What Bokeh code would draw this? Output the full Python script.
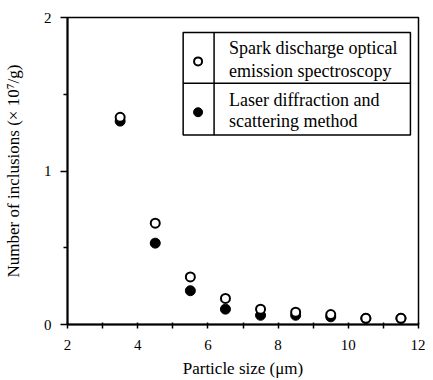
from bokeh.plotting import figure
from bokeh.models import FixedTicker, Range1d
from bokeh.embed import file_html
from bokeh.resources import INLINE
from bokeh.core.properties import value

sizes = [3.5, 4.5, 5.5, 6.5, 7.5, 8.5, 9.5, 10.5, 11.5]
spark = [1.35, 0.66, 0.31, 0.17, 0.10, 0.08, 0.065, 0.04, 0.04]
laser = [1.325, 0.53, 0.22, 0.10, 0.06, 0.06, 0.05, 0.04, 0.04]

x_ticks = [2, 4, 6, 8, 10, 12]
x_minor = [3, 5, 7, 9, 11]
y_ticks = [0, 1, 2]
y_minor = [0.5, 1.5]

legend_labels = [["Spark discharge optical", "emission spectroscopy"],
                 ["Laser diffraction and", "scattering method"]]

FONT = "Liberation Serif"

p = figure(width=425, height=380, output_backend="svg", toolbar_location=None,
           x_range=Range1d(2, 12), y_range=Range1d(0, 2),
           min_border_left=66, min_border_right=7, min_border_top=17, min_border_bottom=55)
p.grid.visible = False
p.background_fill_color = "white"
p.border_fill_color = "white"
p.outline_line_color = "black"
p.outline_line_width = 1.5

for ax in (p.xaxis[0], p.yaxis[0]):
    ax.axis_line_width = 2
    ax.axis_line_color = "black"
    ax.major_tick_line_color = "black"
    ax.minor_tick_line_color = "black"
    ax.major_tick_line_width = 1.5
    ax.minor_tick_line_width = 1.5
    ax.major_label_text_font = FONT
    ax.major_label_text_font_size = "15px"
    ax.major_label_text_color = "black"
    ax.axis_label_text_font = FONT
    ax.axis_label_text_font_size = "17px"
    ax.axis_label_text_font_style = "normal"
    ax.axis_label_text_color = "black"

p.xaxis.ticker = FixedTicker(ticks=x_ticks, minor_ticks=x_minor)
p.yaxis.ticker = FixedTicker(ticks=y_ticks, minor_ticks=y_minor)
p.xaxis.major_tick_in = 2
p.xaxis.major_tick_out = 4
p.xaxis.minor_tick_in = 2
p.xaxis.minor_tick_out = 4
p.yaxis.major_tick_in = 0
p.yaxis.major_tick_out = 7
p.yaxis.minor_tick_in = 0
p.yaxis.minor_tick_out = 4
p.xaxis.major_label_standoff = 11
p.yaxis.major_label_standoff = 9
p.xaxis.axis_label = "Particle size (\u03bcm)"
p.yaxis.axis_label = "Number of inclusions (\u00d7 10\u2077/g)"
p.xaxis.axis_label_standoff = 6
p.yaxis.axis_label_standoff = 18

# data
p.scatter(sizes, laser, size=10, marker="circle", fill_color="black", line_color="black")
p.scatter(sizes, spark, size=9, marker="circle", fill_color="white", line_color="black", line_width=2)

# legend table
p.quad(left=[5.295], right=[11.77], bottom=[1.234], top=[1.903],
       fill_color=None, line_color="black", line_width=1.5)
p.segment(x0=[5.295, 6.176], y0=[1.571, 1.234], x1=[11.77, 6.176], y1=[1.571, 1.903],
          line_color="black", line_width=1.5)
p.scatter([5.72], [1.714], size=8, marker="circle", fill_color="white",
          line_color="black", line_width=2)
p.scatter([5.72], [1.383], size=9, marker="circle", fill_color="black", line_color="black")
p.text(x=[6.60, 6.60], y=[1.799, 1.649], text=legend_labels[0],
       text_font=value(FONT), text_font_size="18px", text_baseline="middle", text_color="black")
p.text(x=[6.60, 6.60], y=[1.461, 1.325], text=legend_labels[1],
       text_font=value(FONT), text_font_size="18px", text_baseline="middle", text_color="black")

open("out.html", "w").write(file_html(p, INLINE))
